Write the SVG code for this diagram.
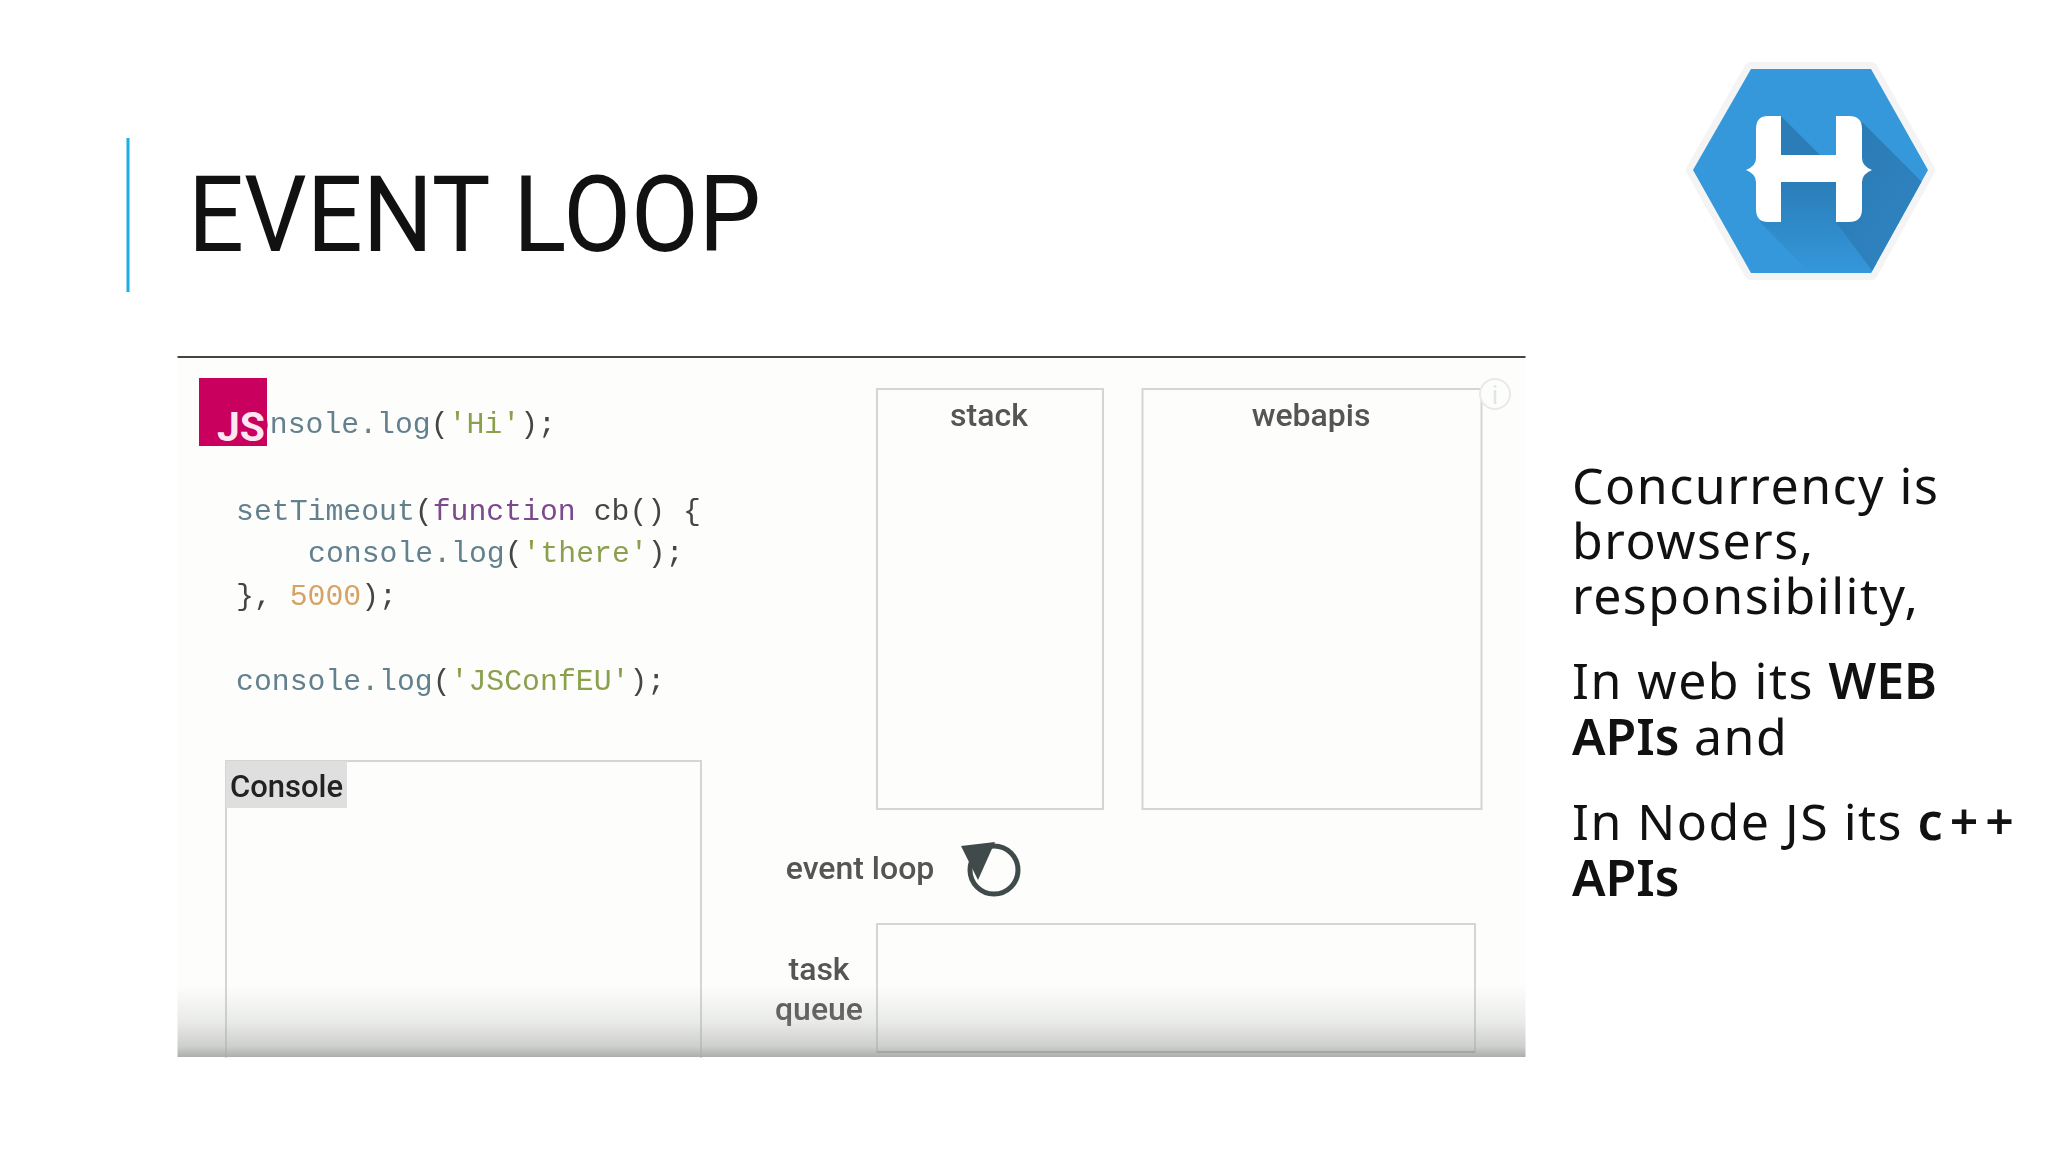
<svg xmlns="http://www.w3.org/2000/svg" width="2048" height="1152" viewBox="0 0 2048 1152">
<style>
.body{font-family:"Noto Sans","Open Sans",sans-serif;font-size:50px;fill:#111;letter-spacing:1.5px}
.b{font-weight:600;letter-spacing:0}
.code{font-family:"Liberation Mono",monospace;font-size:29.8px;fill:#64808e}
.lbl{font-family:Roboto,"Liberation Sans",sans-serif;font-size:32px;font-weight:500;fill:#555;text-anchor:middle}
.box{fill:#fdfefc;stroke:#d4d6d4;stroke-width:2}
.str{fill:#8aa04e}
.p{fill:#444}
</style>
<defs>
<linearGradient id="fade" x1="0" y1="0" x2="0" y2="1"><stop offset="0" stop-color="#a8aaa8" stop-opacity="0"/><stop offset="0.5" stop-color="#a8aaa8" stop-opacity="0.22"/><stop offset="0.85" stop-color="#a8aaa8" stop-opacity="0.55"/><stop offset="1" stop-color="#a8aaa8" stop-opacity="0.95"/></linearGradient>
<linearGradient id="sh1" x1="0" y1="0" x2="1" y2="1"><stop offset="0" stop-color="#2a7ab4"/><stop offset="1" stop-color="#3187c4"/></linearGradient>
<linearGradient id="sh2" x1="0" y1="0" x2="0" y2="1"><stop offset="0" stop-color="#2b7db8"/><stop offset="1" stop-color="#3498db"/></linearGradient>
<clipPath id="hexclip"><polygon points="1693,170 1751,69 1871,69 1928,170 1871,273 1751,273"/></clipPath>
<filter id="soft" x="-5%" y="-5%" width="110%" height="110%"><feGaussianBlur stdDeviation="0.6"/></filter>
</defs>
<rect width="2048" height="1152" fill="#fff"/>
<g id="accent"><rect x="126.500" y="138" width="3" height="154" fill="#1cade4"/></g>
<g id="title"><text x="188" y="251" font-family="Roboto,'Liberation Sans',sans-serif" font-size="106" fill="#111" textLength="573" lengthAdjust="spacingAndGlyphs">EVENT LOOP</text></g>
<g id="logo">
<polygon points="1693,170 1751,69 1871,69 1928,170 1871,273 1751,273" fill="#3498db" stroke="#f4f4f4" stroke-width="14" stroke-linejoin="round" paint-order="stroke"/>
<g clip-path="url(#hexclip)">
<polygon points="1781,116 1820,155 1781,155" fill="#2b7db8"/>
<polygon points="1760,222 1812,275 1889,275 1836,222 1836,182 1781,182" fill="url(#sh2)"/>
<polygon points="1862,122 1950,210 1890,295 1836,222" fill="url(#sh1)"/>
</g>
<path d="M1768,116H1781V155H1836V116H1849Q1862,116 1862,129V158Q1862,166 1872,170Q1862,174 1862,182V209Q1862,222 1849,222H1836V182H1781V222H1768Q1756,222 1756,209V182Q1756,174 1746,170Q1756,166 1756,158V129Q1756,116 1768,116Z" fill="#fff"/>
</g>
<g id="panel">
<rect x="177.500" y="358" width="1348" height="699" fill="#fdfefc"/>
<rect x="177.500" y="356" width="1348" height="2" fill="#444"/>
</g>
<g id="code" filter="url(#soft)">
<text class="code" x="234" y="433">console.log<tspan class="p">(</tspan><tspan class="str">'Hi'</tspan><tspan class="p">);</tspan></text>
<text class="code" x="236" y="520">setTimeout<tspan class="p">(</tspan><tspan fill="#7b4a8c">function</tspan><tspan class="p"> cb() {</tspan></text>
<text class="code" x="308" y="562">console.log<tspan class="p">(</tspan><tspan class="str">'there'</tspan><tspan class="p">);</tspan></text>
<text class="code" x="236" y="605"><tspan class="p">}, </tspan><tspan fill="#d6a266">5000</tspan><tspan class="p">);</tspan></text>
<text class="code" x="236" y="690">console.log<tspan class="p">(</tspan><tspan class="str">'JSConfEU'</tspan><tspan class="p">);</tspan></text>
</g>
<g id="js-badge">
<rect x="199" y="378" width="68" height="68" fill="#c9005e"/>
<text x="217" y="441" font-family="Roboto,'Liberation Sans',sans-serif" font-size="40" font-weight="700" fill="#fde8f2" textLength="48" lengthAdjust="spacingAndGlyphs">JS</text>
</g>
<g id="stack"><rect class="box" x="877" y="389" width="226" height="420"/><text class="lbl" x="989" y="426" filter="url(#soft)">stack</text></g>
<g id="webapis"><rect class="box" x="1142.500" y="389" width="339" height="420"/><text class="lbl" x="1311" y="426" filter="url(#soft)">webapis</text></g>
<g id="info"><circle cx="1495" cy="394" r="15" fill="#fdfefc" stroke="#e8e9e8" stroke-width="2"/><text x="1495" y="404" font-family="Roboto,sans-serif" font-size="26" fill="#e4e5e4" text-anchor="middle">i</text></g>
<g id="console">
<rect class="box" x="226" y="761" width="475" height="310"/>
<rect x="226" y="761" width="121" height="47" fill="#dedfde"/>
<text x="230" y="797" font-family="Roboto,'Liberation Sans',sans-serif" font-size="32" font-weight="500" fill="#222" textLength="113" lengthAdjust="spacingAndGlyphs" filter="url(#soft)">Console</text>
</g>
<g id="event-loop">
<text class="lbl" x="860" y="879" filter="url(#soft)">event loop</text>
<circle cx="994" cy="870" r="24" fill="none" stroke="#414a4a" stroke-width="5"/>
<polygon points="961,846 995,842 978,880" fill="#414a4a"/>
</g>
<g id="task-queue">
<text class="lbl" x="819" y="980" filter="url(#soft)">task</text>
<text class="lbl" x="819" y="1020" filter="url(#soft)">queue</text>
<rect class="box" x="877" y="924" width="598" height="128"/>
</g>
<rect id="panel-fade" x="177.500" y="985" width="1348" height="72" fill="url(#fade)"/>
<rect id="queue-edge" x="877" y="1051" width="598" height="2" fill="#a4a6a4"/>
<rect x="0" y="1058" width="2048" height="30" fill="#fff"/>
<g id="notes">
<text class="body" x="1572" y="504">Concurrency is</text>
<text class="body" x="1572" y="559">browsers,</text>
<text class="body" x="1572" y="614">responsibility,</text>
<text class="body" x="1572" y="699">In web its <tspan class="b">WEB</tspan></text>
<text class="body" x="1572" y="755"><tspan class="b">APIs</tspan> and</text>
<text class="body" x="1572" y="840">In Node JS its <tspan class="b" style="letter-spacing:7px">c++</tspan></text>
<text class="body" x="1572" y="896"><tspan class="b">APIs</tspan></text>
</g>
</svg>
